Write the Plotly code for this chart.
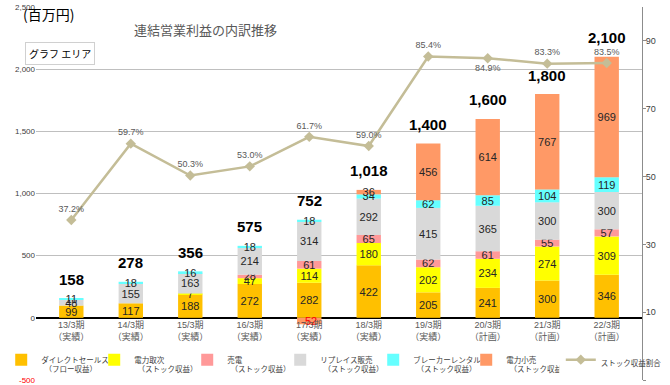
import plotly.graph_objects as go

categories = ["13/3期<br>（実績）", "14/3期<br>（実績）", "15/3期<br>（実績）", "16/3期<br>（実績）",
              "17/3期<br>（実績）", "18/3期<br>（実績）", "19/3期<br>（実績）", "20/3期<br>（計画）",
              "21/3期<br>（計画）", "22/3期<br>（計画）"]

direct_sales = [99, 117, 188, 272, 282, 422, 205, 241, 300, 346]
power_agency = [None, None, 7, 47, 114, 180, 202, 234, 274, 309]
power_sale = [None, None, None, 28, 61, 65, 62, 61, 55, 57]
replace_sales = [48, 155, 163, 214, 314, 292, 415, 365, 300, 300]
breaker_rental = [11, 18, 16, 18, 18, 34, 62, 85, 104, 119]
power_retail = [None, None, None, None, -52, 36, 456, 614, 767, 969]

total_labels = ["158", "278", "356", "575", "752", "1,018", "1,400", "1,600", "1,800", "2,100"]
stock_ratio = [37.2, 59.7, 50.3, 53.0, 61.7, 59.0, 85.4, 84.9, 83.3, 83.5]

series = [
    ("ダイレクトセールス<br>  （フロー収益）", direct_sales, "#FFC000"),
    ("電力取次<br>  （ストック収益）", power_agency, "#FFFF00"),
    ("売電<br>  （ストック収益）", power_sale, "#FF9999"),
    ("リプレイス販売<br>  （ストック収益）", replace_sales, "#D9D9D9"),
    ("ブレーカーレンタル<br>  （ストック収益）", breaker_rental, "#66FFFF"),
    ("電力小売<br>  （ストック収益）", power_retail, "#FF9966"),
]

FONT = "Arial, Liberation Sans, Noto Sans CJK JP, sans-serif"
JFONT = "Noto Sans CJK JP, sans-serif"

fig = go.Figure()
for name, vals, color in series:
    texts = ["" if v is None else f"{v:,}" for v in vals]
    tcolors = ["#FF0000" if (v is not None and v < 0) else "#262626" for v in vals]
    fig.add_trace(go.Bar(
        x=categories, y=vals, name=name, marker=dict(color=color, line=dict(width=0)),
        text=texts, textposition="inside", insidetextanchor="middle", textangle=0,
        textfont=dict(size=11, color=tcolors, family=FONT), cliponaxis=False,
        legend="legend",
    ))

fig.add_trace(go.Scatter(
    x=categories, y=stock_ratio, name="ストック収益割合", yaxis="y2",
    mode="lines+markers+text",
    line=dict(color="#C4BD97", width=2.5),
    marker=dict(symbol="diamond", size=8, color="#C4BD97"),
    text=[f"{v:.1f}%" for v in stock_ratio],
    textposition=["bottom center" if i == 7 else "top center" for i in range(len(stock_ratio))],
    textfont=dict(size=9, color="#595959", family=FONT),
    cliponaxis=False, legend="legend2",
))

# total labels above stacks
for i, cat in enumerate(categories):
    top = sum(s[1][i] for s in series if s[1][i] is not None and s[1][i] > 0)
    fig.add_annotation(x=cat, y=top, xref="x", yref="y", text=f"<b>{total_labels[i]}</b>",
                       showarrow=False, yshift=19, font=dict(size=15, color="#000000", family=FONT))

fig.add_annotation(x=0.279, y=0.94, xref="paper", yref="paper", text="連結営業利益の内訳推移",
                   xanchor="center", yanchor="middle",
                   showarrow=False, font=dict(size=13, color="#595959", family=JFONT))
fig.add_annotation(x=-0.025, y=0.982, xref="paper", yref="paper", text="(百万円)",
                   xanchor="left", yanchor="middle", showarrow=False,
                   font=dict(size=14, color="#000000", family=JFONT))
fig.add_annotation(x=0.04, y=0.875, xref="paper", yref="paper", text="グラフ エリア",
                   xanchor="center", yanchor="middle",
                   showarrow=False, bgcolor="#FFFFFF", bordercolor="#D0D0D0", borderwidth=1,
                   borderpad=3, font=dict(size=10, color="#000000", family=JFONT))

legend_common = dict(orientation="h", y=0.085, yanchor="top", traceorder="normal",
                     font=dict(size=7.5, color="#404040", family=JFONT), valign="top",
                     bgcolor="rgba(0,0,0,0)", itemwidth=30, tracegroupgap=0)

fig.update_layout(
    width=670, height=385,
    margin=dict(l=36, r=28, t=7, b=5, autoexpand=False),
    paper_bgcolor="#FFFFFF", plot_bgcolor="#FFFFFF",
    barmode="relative", bargap=0.59,
    uniformtext=dict(minsize=11, mode="show"),
    font=dict(family=FONT, color="#404040"),
    showlegend=True,
    legend=dict(x=0.403, xanchor="center", entrywidth=48, entrywidthmode="pixels", **legend_common),
    legend2=dict(x=0.866, xanchor="left", **legend_common),
    xaxis=dict(anchor="free", position=1/6, showline=False, ticks="", showgrid=False, automargin=False,
               tickfont=dict(size=9, color="#595959", family=FONT), fixedrange=True),
    yaxis=dict(range=[-500, 2500], tickvals=[-500, 0, 500, 1000, 1500, 2000, 2500],
               ticktext=["<span style='color:#FF0000'>-500</span>", "0", "500", "1,000", "1,500", "2,000", "2,500"],
               showgrid=True, gridcolor="#BFBFBF", gridwidth=1, automargin=False,
               zeroline=True, zerolinecolor="#000000", zerolinewidth=1.5,
               showline=False, ticks="", tickfont=dict(size=8, color="#404040", family=FONT)),
    yaxis2=dict(range=[-10, 100], overlaying="y", side="right", automargin=False,
                tickvals=[-10, 10, 30, 50, 70, 90], ticksuffix="%",
                showgrid=False, zeroline=False, showline=True, linecolor="#8C8C8C", linewidth=1,
                ticks="outside", ticklen=3, tickcolor="#8C8C8C", ticklabelstandoff=-2,
                tickfont=dict(size=9, color="#404040", family=FONT)),
)

fig.write_html("out.html", config={"displayModeBar": False},
               post_script="document.body.style.margin='0px';document.body.style.overflow='hidden';")
